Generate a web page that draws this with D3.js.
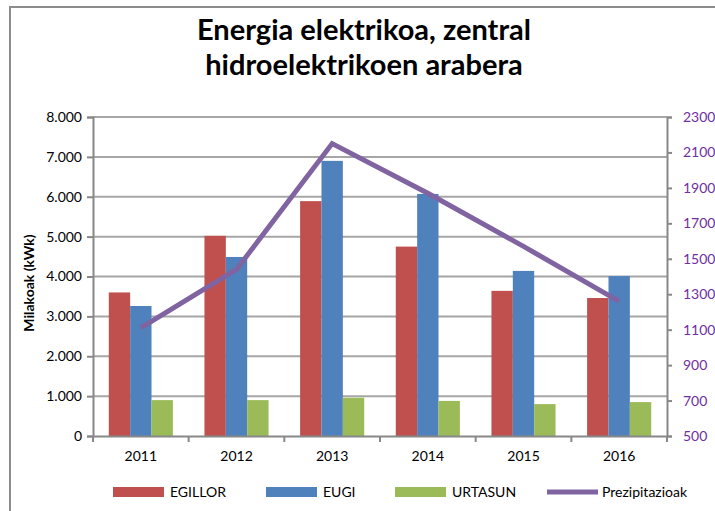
<!DOCTYPE html>
<html>
<head>
<meta charset="utf-8">
<script src="https://cdn.jsdelivr.net/npm/d3@7"></script>
<style>
  body { margin: 0; background: #fff; }
  svg { font-family: Lato, "Liberation Sans", sans-serif; }
</style>
</head>
<body>
<svg id="chart" width="715" height="511"></svg>
<script>
// data
var years = ['2011', '2012', '2013', '2014', '2015', '2016'];
var egillor = [3600, 5020, 5890, 4750, 3640, 3460];
var eugi = [3260, 4490, 6900, 6070, 4140, 4010];
var urtasun = [900, 900, 960, 880, 800, 850];
var prezipitazioak = [1110, 1440, 2150, 1870, 1570, 1260];
var seriesNames = ['EGILLOR', 'EUGI', 'URTASUN'];
var leftTicks = [0, 1000, 2000, 3000, 4000, 5000, 6000, 7000, 8000];
var rightTicks = [500, 700, 900, 1100, 1300, 1500, 1700, 1900, 2100, 2300];

var colors = ['#c0504d', '#4f81bd', '#9bbb59'],
    lineColor = '#8064a2',
    gridColor = '#a6a6a6';

var margin = { top: 117, left: 93, right: 48, bottom: 75 },
    width = 715 - margin.left - margin.right,
    height = 511 - margin.top - margin.bottom;

var svg = d3.select('#chart');

// outer frame (only top and left visible)
svg.append('path')
    .attr('d', 'M10,511 V7 H715')
    .attr('fill', 'none')
    .attr('stroke', '#8c8c8c')
    .attr('stroke-width', 2);

// title
var title = svg.append('text')
    .attr('text-anchor', 'middle')
    .attr('font-weight', 'bold')
    .attr('font-size', 29)
    .attr('fill', '#000');
title.append('tspan').attr('x', 364).attr('y', 40).text('Energia elektrikoa, zentral');
title.append('tspan').attr('x', 364).attr('y', 75).text('hidroelektrikoen arabera');

var g = svg.append('g')
    .attr('transform', 'translate(' + margin.left + ',' + margin.top + ')');

var x = d3.scaleBand().domain(years).range([0, width]).paddingInner(0.33).paddingOuter(0.165);
var xs = d3.scaleBand().domain(seriesNames).range([0, x.bandwidth()]);
var y = d3.scaleLinear().domain([0, 8000]).range([height, 0]);
var y2 = d3.scaleLinear().domain([500, 2300]).range([height, 0]);
var xc = d3.scalePoint().domain(years).range([0, width]).padding(0.5);

// gridlines
g.append('g').selectAll('line')
    .data(leftTicks.slice(1))
    .enter().append('line')
    .attr('x1', 0).attr('x2', width)
    .attr('y1', function (d) { return y(d); })
    .attr('y2', function (d) { return y(d); })
    .attr('stroke', gridColor)
    .attr('stroke-width', 2);

// bars
var seriesData = [egillor, eugi, urtasun];
seriesData.forEach(function (vals, s) {
    g.append('g').selectAll('rect')
        .data(vals)
        .enter().append('rect')
        .attr('x', function (d, i) { return x(years[i]) + xs(seriesNames[s]); })
        .attr('width', xs.bandwidth())
        .attr('y', function (d) { return y(d); })
        .attr('height', function (d) { return height - y(d); })
        .attr('fill', colors[s]);
});

// precipitation line
var line = d3.line()
    .x(function (d, i) { return xc(years[i]); })
    .y(function (d) { return y2(d); });
g.append('path')
    .datum(prezipitazioak)
    .attr('d', line)
    .attr('fill', 'none')
    .attr('stroke', lineColor)
    .attr('stroke-width', 5);

// axes
var leftAxis = g.append('g')
    .call(d3.axisLeft(y).tickValues(leftTicks).tickSize(6).tickPadding(5)
        .tickFormat(function (d) { return d === 0 ? '0' : d3.format(',')(d).replace(',', '.'); }));
var rightAxis = g.append('g')
    .attr('transform', 'translate(' + width + ',0)')
    .call(d3.axisRight(y2).tickValues(rightTicks).tickSize(5).tickPadding(11)
        .tickFormat(d3.format('d')));
var xAxis = g.append('g')
    .attr('transform', 'translate(0,' + height + ')')
    .call(d3.axisBottom(x).tickSize(0).tickPadding(15));

// category separators on x axis
xAxis.selectAll('.sep')
    .data(d3.range(years.length + 1))
    .enter().append('line')
    .attr('class', 'sep')
    .attr('x1', function (d) { return d * width / years.length; })
    .attr('x2', function (d) { return d * width / years.length; })
    .attr('y1', 0).attr('y2', 6)
    .attr('stroke', '#888').attr('stroke-width', 2);

[leftAxis, rightAxis, xAxis].forEach(function (ax) {
    ax.selectAll('.domain').attr('stroke', '#888').attr('stroke-width', 2);
    ax.selectAll('.tick line').attr('stroke', '#888').attr('stroke-width', 2);
    ax.selectAll('text').attr('font-size', 14).attr('font-family', 'Lato, sans-serif');
});
leftAxis.selectAll('text').attr('fill', '#000');
xAxis.selectAll('text').attr('fill', '#000');
rightAxis.selectAll('text').attr('fill', '#7030a0');

// y axis title
svg.append('text')
    .attr('transform', 'translate(34,283) rotate(-90)')
    .attr('text-anchor', 'middle')
    .attr('font-weight', 'bold')
    .attr('font-size', 14)
    .text('Milakoak (kWk)');

// legend
var legendItems = [
    { name: 'EGILLOR', color: colors[0], x: 113, type: 'bar' },
    { name: 'EUGI', color: colors[1], x: 266, type: 'bar' },
    { name: 'URTASUN', color: colors[2], x: 395, type: 'bar' },
    { name: 'Prezipitazioak', color: lineColor, x: 547, type: 'line' }
];
var legend = svg.append('g').selectAll('g')
    .data(legendItems)
    .enter().append('g')
    .attr('transform', function (d) { return 'translate(' + d.x + ',492)'; });
legend.append('rect')
    .attr('x', 0)
    .attr('y', function (d) { return d.type === 'bar' ? -5 : -2.5; })
    .attr('width', 51)
    .attr('height', function (d) { return d.type === 'bar' ? 10 : 5; })
    .attr('fill', function (d) { return d.color; });
legend.append('text')
    .attr('x', function (d) { return d.type === 'bar' ? 57 : 55; })
    .attr('dy', '0.35em')
    .attr('font-size', 14)
    .text(function (d) { return d.name; });
</script>
</body>
</html>
